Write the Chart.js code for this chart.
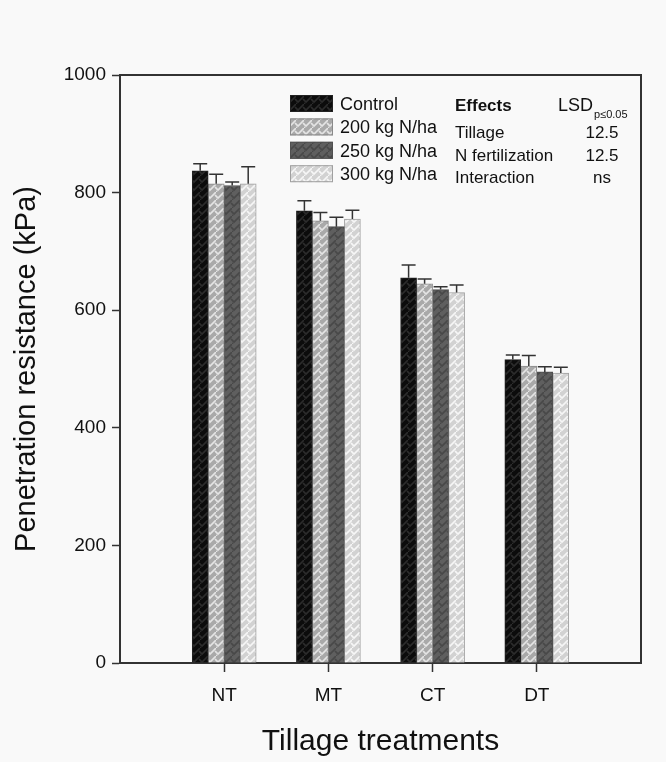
<!DOCTYPE html>
<html>
<head>
<meta charset="utf-8">
<script src="https://cdn.jsdelivr.net/npm/chart.js@4/dist/chart.umd.min.js"></script>
<style>
  html, body { margin: 0; padding: 0; background: #f9f9f9; }
  canvas { display: block; }
</style>
</head>
<body>
<canvas id="chart" width="666" height="762"></canvas>
<script>
// data (kPa)
const categories = ["NT", "MT", "CT", "DT"];
const seriesNames = ["Control", "200 kg N/ha", "250 kg N/ha", "300 kg N/ha"];
const control = [837, 769, 655, 516];
const n200 = [815, 752, 645, 505];
const n250 = [812, 742, 635, 495];
const n300 = [815, 755, 630, 493];
// upper error bars
const controlErr = [12, 17, 22, 8];
const n200Err = [16, 14, 8, 18];
const n250Err = [6, 16, 5, 9];
const n300Err = [29, 15, 13, 10];
const yTicks = [0, 200, 400, 600, 800, 1000];
// LSD table
const effects = ["Tillage", "N fertilization", "Interaction"];
const lsd = ["12.5", "12.5", "ns"];

const FONT = "'Liberation Sans', Arial, sans-serif";
const INK = "#111";

// little chevron pattern tiles, like the SigmaPlot fills
function makePattern(bg, fg) {
  const c = document.createElement("canvas");
  c.width = 8; c.height = 8;
  const g = c.getContext("2d");
  g.fillStyle = bg;
  g.fillRect(0, 0, 8, 8);
  g.strokeStyle = fg;
  g.lineWidth = 1.6;
  g.beginPath();
  g.moveTo(-1, 3); g.lineTo(2, 6); g.lineTo(8, 0);
  g.moveTo(7, 3); g.lineTo(10, 6);
  g.moveTo(0, 8); g.lineTo(1, 7);
  g.stroke();
  return g.createPattern(c, "repeat");
}

const fills = [
  makePattern("#0c0c0c", "#2c2c2c"),
  makePattern("#a9a9a9", "#e4e4e4"),
  makePattern("#5f5f5f", "#484848"),
  makePattern("#d2d2d2", "#f6f6f6")
];
const borders = ["#222", "#8a8a8a", "#505050", "#a0a0a0"];
const values = [control, n200, n250, n300];
const errors = [controlErr, n200Err, n250Err, n300Err];

// pad the category axis with empty slots so groups sit at 1..4 of 0..5
const labels = ["", ...categories, ""];
const pad = arr => [null, ...arr, null];

const errorBars = {
  id: "errorBars",
  afterDatasetsDraw(chart) {
    const { ctx } = chart;
    const y = chart.scales.y;
    ctx.save();
    ctx.strokeStyle = "#333";
    ctx.lineWidth = 1.5;
    chart.data.datasets.forEach((ds, i) => {
      const meta = chart.getDatasetMeta(i);
      meta.data.forEach((bar, j) => {
        if (ds.data[j] == null) return;
        const top = y.getPixelForValue(ds.data[j] + errors[i][j - 1]);
        const half = (bar.width - 2) / 2;
        ctx.beginPath();
        ctx.moveTo(bar.x, bar.y);
        ctx.lineTo(bar.x, top);
        ctx.moveTo(bar.x - half, top);
        ctx.lineTo(bar.x + half, top);
        ctx.stroke();
      });
    });
    ctx.restore();
  }
};

// top and right side of the frame
const frame = {
  id: "frame",
  afterDraw(chart) {
    const { ctx, chartArea: a } = chart;
    ctx.save();
    ctx.strokeStyle = "#333";
    ctx.lineWidth = 2;
    ctx.beginPath();
    ctx.moveTo(a.left, a.top);
    ctx.lineTo(a.right, a.top);
    ctx.lineTo(a.right, a.bottom);
    ctx.stroke();
    ctx.restore();
  }
};

// legend + LSD table inside the plot
const legendBox = {
  id: "legendBox",
  afterDraw(chart) {
    const ctx = chart.ctx;
    ctx.save();
    ctx.textBaseline = "alphabetic";
    ctx.fillStyle = INK;
    const x0 = 290, y0 = 95, step = 23.4;
    seriesNames.forEach((name, i) => {
      const y = y0 + i * step;
      ctx.fillStyle = fills[i];
      ctx.fillRect(x0, y, 43, 17);
      ctx.strokeStyle = borders[i];
      ctx.lineWidth = 1;
      ctx.strokeRect(x0 + 0.5, y + 0.5, 42, 16);
      ctx.fillStyle = INK;
      ctx.font = "18px " + FONT;
      ctx.fillText(name, 340, y + 15);
    });

    ctx.font = "bold 17px " + FONT;
    ctx.fillText("Effects", 455, 111);
    ctx.font = "18px " + FONT;
    ctx.fillText("LSD", 558, 111);
    ctx.font = "11px " + FONT;
    ctx.fillText("p\u22640.05", 594, 118);

    ctx.font = "17px " + FONT;
    effects.forEach((e, i) => {
      const y = 138 + i * 22.7;
      ctx.textAlign = "left";
      ctx.fillText(e, 455, y);
      ctx.textAlign = "center";
      ctx.fillText(lsd[i], 602, y);
    });
    ctx.restore();
  }
};

new Chart(document.getElementById("chart"), {
  type: "bar",
  data: {
    labels: labels,
    datasets: seriesNames.map((name, i) => ({
      label: name,
      data: pad(values[i]),
      backgroundColor: fills[i],
      borderColor: borders[i],
      borderWidth: 1,
      barThickness: 16
    }))
  },
  options: {
    responsive: false,
    animation: false,
    layout: { padding: { top: 75, right: 25, left: 0, bottom: 0 } },
    plugins: {
      legend: { display: false },
      tooltip: { enabled: false }
    },
    scales: {
      x: {
        offset: false,
        afterFit: s => { s.height = 99; },
        grid: {
          offset: false,
          drawOnChartArea: false,
          tickLength: 9,
          tickWidth: 1.5,
          tickColor: c => (c.index === 0 || c.index === labels.length - 1) ? "rgba(0,0,0,0)" : "#333"
        },
        border: { display: true, color: "#333", width: 2 },
        ticks: { color: INK, font: { family: FONT, size: 19 }, padding: 12, maxRotation: 0, autoSkip: false },
        title: {
          display: true,
          text: "Tillage treatments",
          color: INK,
          font: { family: FONT, size: 30 },
          padding: { top: 0, bottom: 2 }
        }
      },
      y: {
        min: 0,
        max: 1000,
        afterFit: s => { s.width = 120; },
        afterBuildTicks: s => { s.ticks = yTicks.map(v => ({ value: v })); },
        grid: { drawOnChartArea: false, tickLength: 8, tickWidth: 1.5, tickColor: "#333" },
        border: { display: true, color: "#333", width: 2 },
        ticks: { color: INK, font: { family: FONT, size: 19 }, padding: 6, callback: v => String(v) },
        title: {
          display: true,
          text: "Penetration resistance (kPa)",
          color: INK,
          font: { family: FONT, size: 29 },
          padding: { top: 10, bottom: 0 }
        }
      }
    }
  },
  plugins: [errorBars, frame, legendBox]
});
</script>
</body>
</html>
